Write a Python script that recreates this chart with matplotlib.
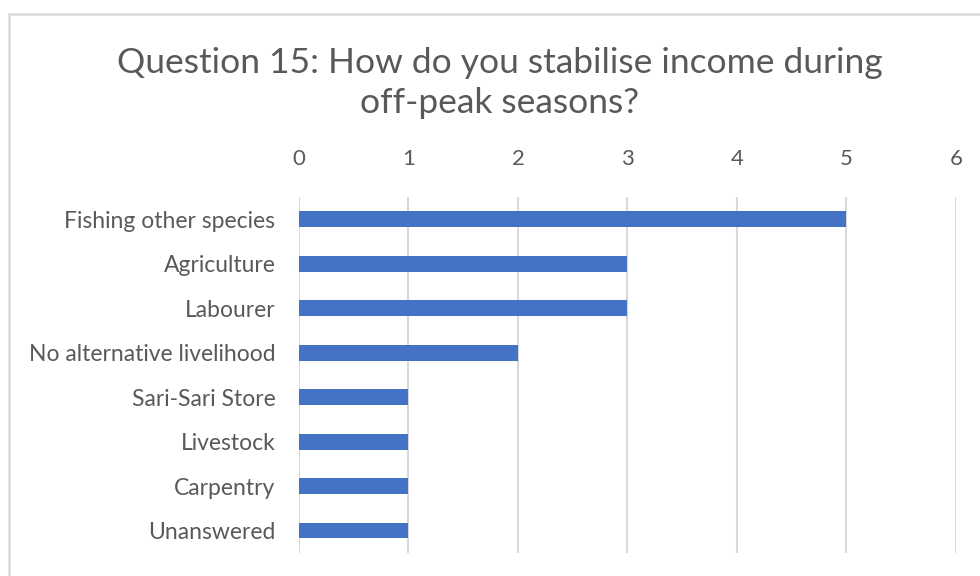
import matplotlib
matplotlib.use("Agg")
import matplotlib.pyplot as plt
from matplotlib.patches import Rectangle

# Survey responses, Question 15
categories = [
    "Fishing other species",
    "Agriculture",
    "Labourer",
    "No alternative livelihood",
    "Sari-Sari Store",
    "Livestock",
    "Carpentry",
    "Unanswered",
]
counts = [5, 3, 3, 2, 1, 1, 1, 1]
x_ticks = [0, 1, 2, 3, 4, 5, 6]

text_color = "#595959"
bar_color = "#4472C4"
grid_color = "#d9d9d9"

plt.rcParams["font.family"] = ["Lato", "DejaVu Sans"]

fig = plt.figure(figsize=(9.8, 5.76), dpi=100)
ax = fig.add_axes([0.3051, 0.040, 0.6704, 0.618])

# Outer chart frame
fig.patches.append(Rectangle((9 / 980, -0.05), 1.2, 1 - 14 / 576 + 0.05,
                             transform=fig.transFigure, fill=False,
                             edgecolor=grid_color, linewidth=1.8))

y_pos = list(range(len(categories)))
ax.barh(y_pos, counts, height=0.35, color=bar_color, zorder=3)

ax.set_ylim(len(categories) - 0.5, -0.5)
ax.set_xlim(0, 6)
ax.set_xticks(x_ticks)
ax.set_yticks(y_pos)
ax.set_yticklabels(categories)
ax.xaxis.tick_top()
ax.tick_params(axis="x", length=0, pad=20, labelsize=16, labelcolor=text_color)
ax.tick_params(axis="y", length=0, pad=17, labelsize=16.5, labelcolor=text_color)

ax.grid(axis="x", color=grid_color, linewidth=1.5, zorder=0)
for spine in ax.spines.values():
    spine.set_visible(False)

fig.text(0.51, 0.856, "Question 15: How do you stabilise income during\noff-peak seasons?",
         ha="center", va="center", fontsize=25.5, color=text_color, linespacing=1.28)

fig.savefig("out.png", dpi=100)
